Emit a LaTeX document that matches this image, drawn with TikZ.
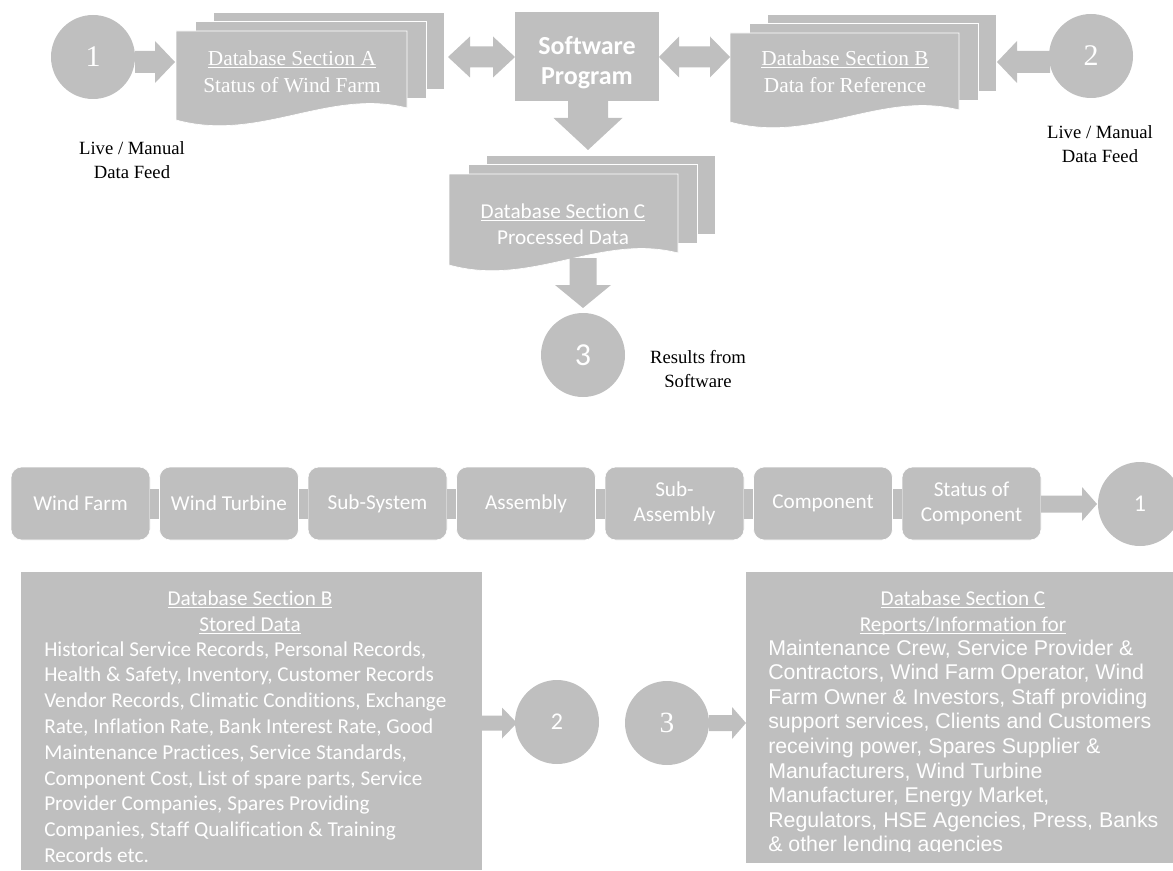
\documentclass[tikz,border=0pt]{standalone}
\usepackage{fontspec}
\setmainfont{Liberation Serif}
\newfontfamily\calib{Carlito}[Ligatures=NoCommon]
\newfontfamily\arialf{Liberation Sans}
\usetikzlibrary{calc}
\definecolor{boxgray}{HTML}{BFBFBF}

\newcommand\uln[1]{\setbox0=\hbox{#1}\rlap{\rule[-2pt]{\wd0}{0.8pt}}\box0}

% right/left block arrow: x1 x2 yc shaft-half head-half head-length(signed)
\newcommand\blkR[6]{\fill[boxgray] ({#1},{#3-#4}) -- ({#2-(#6)},{#3-#4}) -- ({#2-(#6)},{#3-#5}) -- ({#2},{#3}) -- ({#2-(#6)},{#3+#5}) -- ({#2-(#6)},{#3+#4}) -- ({#1},{#3+#4}) -- cycle;}
% down block arrow: y1 y2 xc shaft-half head-half head-length
\newcommand\blkD[6]{\fill[boxgray] ({#3-#4},{#1}) -- ({#3-#4},{#2-#6}) -- ({#3-#5},{#2-#6}) -- ({#3},{#2}) -- ({#3+#5},{#2-#6}) -- ({#3+#4},{#2-#6}) -- ({#3+#4},{#1}) -- cycle;}
% double block arrow
\newcommand\blkLR[6]{\fill[boxgray] ({#1},{#3}) -- ({#1+#6},{#3-#5}) -- ({#1+#6},{#3-#4}) -- ({#2-#6},{#3-#4}) -- ({#2-#6},{#3-#5}) -- ({#2},{#3}) -- ({#2-#6},{#3+#5}) -- ({#2-#6},{#3+#4}) -- ({#1+#6},{#3+#4}) -- ({#1+#6},{#3+#5}) -- cycle;}
% multi-document: left top width height name
\newcommand\multidoc[5]{%
 \draw[page] ({#1+37},{#2-19}) rectangle ({#1+37+#3},{#2-19+#4});
 \draw[page] ({#1+19},{#2-10}) rectangle ({#1+19+#3},{#2-10+#4});
 \draw[page] ({#1},{#2}) -- ({#1+#3},{#2}) -- ({#1+#3},{#2+#4}) .. controls ({#1+0.66*#3},{#2+#4-20}) and ({#1+0.36*#3},{#2+#4+35}) .. ({#1},{#2+#4+12}) -- cycle;
 \coordinate (#5) at ({#1+#3/2},{#2+#4/2});
}

\tikzset{
 page/.style={fill=boxgray, draw=white, line width=0.5pt},
 circ/.style={circle, fill=boxgray, minimum size=63pt, inner sep=0pt, text=white},
 rbox/.style={rectangle, rounded corners=8pt, fill=boxgray, draw=white, line width=0.5pt,
   minimum width=104.25pt, minimum height=54.75pt, inner sep=0pt, text=white, align=center,
   font=\calib\fontsize{15.9pt}{19pt}\selectfont},
 doctxt/.style={text=white, align=center, inner sep=0pt, font=\fontsize{16pt}{20pt}\selectfont},
 lbl/.style={text=black, align=center, inner sep=0pt, font=\fontsize{14pt}{18pt}\selectfont},
 btxtB/.style={anchor=base west, inner sep=0pt, text=white, font=\calib\fontsize{15.9pt}{19pt}\selectfont},
 btxtC/.style={anchor=base west, inner sep=0pt, text=white, font=\arialf\fontsize{16pt}{18.4pt}\selectfont},
 hdr/.style={anchor=base, inner sep=0pt, text=white, font=\calib\fontsize{15.9pt}{19pt}\selectfont},
}

\begin{document}
\begin{tikzpicture}[x=0.75pt, y=-0.75pt]
\useasboundingbox (0,0) rectangle (1173,870);
\clip (0,0) rectangle (1173,870);

% ---------- top flow ----------
\multidoc{176}{31}{231}{77}{docA}
\multidoc{730}{33}{229}{77}{docB}
\multidoc{449}{174}{229}{79}{docC}

\node[fill=boxgray, minimum width=108pt, minimum height=66.75pt, inner sep=0pt] (sp) at (587,56.5) {};
\node[text=white, align=center, inner sep=0pt, font=\calib\bfseries\fontsize{19.5pt}{22.5pt}\selectfont] (sptext) at (587,63) {Software\\Program};

\node[doctxt] (tA) at (292,71.5) {\uln{Database Section A}\\Status of Wind Farm};
\node[doctxt] (tB) at (845,71.5) {\uln{Database Section B}\\Data for Reference};
\node[doctxt, font=\calib\fontsize{15.9pt}{19.5pt}\selectfont] (tC) at (563,224) {\uln{Database Section C}\\Processed Data};

\node[circ, font=\fontsize{22.5pt}{22.5pt}\selectfont] (c1) at (93,57) {1};
\node[circ, font=\fontsize{22.5pt}{22.5pt}\selectfont] (c2) at (1091,56) {2};
\node[circ, font=\calib\fontsize{24pt}{24pt}\selectfont] (c3) at (583,355) {3};

\blkR{135}{175}{62}{11}{21}{20}
\blkLR{448}{515}{57}{10.5}{20.5}{22}
\blkLR{659}{730}{57}{10.5}{20.5}{20}
\blkR{1050}{997}{62}{11}{21}{-20}
\blkD{101}{150}{588}{20}{34.5}{32}
\blkD{258}{308}{583}{13.5}{28}{23}

\node[lbl] (lf1) at (132,160) {Live / Manual\\Data Feed};
\node[lbl] (lf2) at (1100,144.5) {Live / Manual\\Data Feed};
\begin{scope}
\clip (600,330) rectangle (800,386.5);
\node[lbl] (res) at (698,369.5) {Results from\\Software};
\end{scope}

% ---------- hierarchy row ----------
\node[rbox] (r1) at (80.5,503.5) {Wind Farm};
\node[rbox] (r2) at (229,503.5) {Wind Turbine};
\node[rbox] (r3) at (377.5,503.5) {Sub-System};
\node[rbox] (r4) at (526,503.5) {Assembly};
\node[rbox] (r5) at (674.5,503.5) {Sub-\\Assembly};
\node[rbox] (r6) at (823,503.5) {Component};
\node[rbox] (r7) at (971.5,503.5) {Status of\\Component};
\foreach \a/\b in {1/2,2/3,3/4,4/5,5/6,6/7}
  \fill[boxgray] ($(r\a.east)+(0,-15)$) rectangle ($(r\b.west)+(0,15)$);
\node[circ, font=\calib\fontsize{18pt}{18pt}\selectfont] (c1b) at (1140,504) {1};
\blkR{1041}{1097}{504}{8.5}{17}{15}

% ---------- bottom ----------
\node[fill=boxgray, minimum width=345.75pt, minimum height=223.5pt, inner sep=0pt] (dbB) at (251.5,721) {};
\node[fill=boxgray, minimum width=320.25pt, minimum height=218.25pt, inner sep=0pt] (dbC) at (959.5,717.5) {};

\begin{scope}
\clip (21,572) rectangle (482,870);
\node[hdr] (hB1) at (250,605) {\uln{Database Section B}};
\node[hdr] (hB2) at (250,631) {\uln{Stored Data}};
\foreach \t [count=\i from 0] in {
 {Historical Service Records, Personal Records,},
 {Health \& Safety, Inventory, Customer Records},
 {Vendor Records, Climatic Conditions, Exchange},
 {Rate, Inflation Rate, Bank Interest Rate, Good},
 {Maintenance Practices, Service Standards,},
 {Component Cost, List of spare parts, Service},
 {Provider Companies, Spares Providing},
 {Companies, Staff Qualification \& Training},
 {Records etc.}}
  \node[btxtB] (bB\i) at (44,{656+25.8*\i}) {\t};
\end{scope}

\begin{scope}
\clip (746,572) rectangle (1173,851);
\node[hdr] (hC1) at (963,605) {\uln{Database Section C}};
\node[hdr] (hC2) at (963,631) {\uln{Reports/Information for}};
\foreach \t [count=\i from 0] in {
 {Maintenance Crew, Service Provider \&},
 {Contractors, Wind Farm Operator, Wind},
 {Farm Owner \& Investors, Staff providing},
 {support services, Clients and Customers},
 {receiving power, Spares Supplier \&},
 {Manufacturers, Wind Turbine},
 {Manufacturer, Energy Market,},
 {Regulators, HSE Agencies, Press, Banks},
 {\& other lending agencies}}
  \node[btxtC] (bC\i) at (768,{655+24.6*\i}) {\t};
\end{scope}

\node[circ, font=\calib\fontsize{18pt}{18pt}\selectfont] (c2b) at (557,722) {2};
\node[circ, font=\fontsize{22pt}{22pt}\selectfont] (c3b) at (667,723) {3};
\blkR{482}{517}{723}{7.5}{15.5}{15}
\blkR{709}{746}{723}{8}{16}{14}

\end{tikzpicture}
\end{document}
